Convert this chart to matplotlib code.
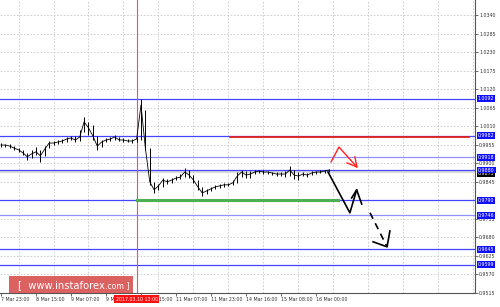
import matplotlib
matplotlib.use("Agg")
import matplotlib.pyplot as plt
import matplotlib.transforms as mtransforms

# hours since 7 Mar 23:00, one bar every 2 hours
bar_hours = list(range(0, 152, 2))
closes = [0.9954, 0.9954, 0.9951, 0.9945, 0.9940, 0.9931, 0.9919, 0.9928, 0.9934, 0.9922,
          0.9942, 0.9960, 0.9960, 0.9963, 0.9966, 0.9972, 0.9975, 0.9969, 0.9978, 1.0023,
          1.0005, 0.9981, 0.9951, 0.9963, 0.9969, 0.9972, 0.9978, 0.9969, 0.9969, 0.9966,
          0.9966, 0.9972, 1.0073, 0.9945, 0.9845, 0.9821, 0.9833, 0.9850, 0.9845, 0.9850,
          0.9856, 0.9859, 0.9874, 0.9865, 0.9850, 0.9830, 0.9812, 0.9818, 0.9824, 0.9830,
          0.9833, 0.9836, 0.9836, 0.9842, 0.9862, 0.9874, 0.9865, 0.9868, 0.9874, 0.9877,
          0.9874, 0.9874, 0.9871, 0.9868, 0.9868, 0.9868, 0.9880, 0.9865, 0.9862, 0.9868,
          0.9865, 0.9871, 0.9874, 0.9874, 0.9877, 0.9880]
highs = [0.9960, 0.9957, 0.9957, 0.9951, 0.9945, 0.9940, 0.9931, 0.9940, 0.9948, 0.9940,
         0.9951, 0.9966, 0.9966, 0.9969, 0.9972, 0.9978, 0.9981, 0.9981, 0.9999, 1.0037,
         1.0023, 1.0014, 0.9981, 0.9969, 0.9975, 0.9978, 0.9984, 0.9978, 0.9975, 0.9972,
         0.9972, 0.9981, 1.0091, 1.0058, 0.9945, 0.9845, 0.9839, 0.9856, 0.9853, 0.9856,
         0.9862, 0.9868, 0.9886, 0.9880, 0.9865, 0.9850, 0.9830, 0.9824, 0.9830, 0.9836,
         0.9839, 0.9842, 0.9842, 0.9850, 0.9874, 0.9880, 0.9877, 0.9877, 0.9880, 0.9880,
         0.9880, 0.9877, 0.9874, 0.9874, 0.9874, 0.9877, 0.9892, 0.9880, 0.9874, 0.9874,
         0.9871, 0.9877, 0.9877, 0.9880, 0.9880, 0.9883]
lows = [0.9948, 0.9948, 0.9945, 0.9940, 0.9934, 0.9925, 0.9910, 0.9916, 0.9925, 0.9904,
        0.9922, 0.9945, 0.9954, 0.9957, 0.9960, 0.9963, 0.9969, 0.9963, 0.9966, 0.9993,
        0.9984, 0.9969, 0.9940, 0.9948, 0.9963, 0.9966, 0.9969, 0.9966, 0.9963, 0.9963,
        0.9960, 0.9963, 0.9969, 0.9940, 0.9836, 0.9812, 0.9821, 0.9830, 0.9839, 0.9842,
        0.9850, 0.9853, 0.9859, 0.9856, 0.9842, 0.9821, 0.9803, 0.9809, 0.9818, 0.9824,
        0.9827, 0.9830, 0.9833, 0.9836, 0.9842, 0.9859, 0.9856, 0.9856, 0.9868, 0.9871,
        0.9868, 0.9868, 0.9865, 0.9862, 0.9862, 0.9859, 0.9862, 0.9853, 0.9850, 0.9862,
        0.9859, 0.9865, 0.9868, 0.9871, 0.9871, 0.9874]

levels = [1.0092, 0.9982, 0.9918, 0.9880, 0.9790, 0.9746, 0.9645, 0.9599]
price_ticks = [1.0340, 1.0285, 1.0230, 1.0175, 1.0120, 1.0065, 1.0010, 0.9955,
               0.9900, 0.9845, 0.9735, 0.9680, 0.9625, 0.9570, 0.9515]
time_ticks = [0, 16, 32, 48, 64, 80, 96, 112, 128, 144]
time_labels = ["7 Mar 23:00", "8 Mar 15:00", "9 Mar 07:00", "9 Mar 23:00", "10 Mar 15:00",
               "11 Mar 07:00", "11 Mar 23:00", "14 Mar 16:00", "15 Mar 08:00", "16 Mar 00:00"]
event_hour = 62
event_label = "2017.03.10 13:00"
bid_price = 0.9873

# drawn objects: (hours, prices)
red_line = ([104.7, 214.0], [0.9977, 0.9977])
green_line = ([62.2, 154.0], [0.9790, 0.9790])
solid_path = ([149.5, 159.5, 162.6], [0.9874, 0.9753, 0.9821])
solid_head = ([160.3, 162.6, 164.9], [0.9797, 0.9821, 0.9779])
dashed_path = ([168.7, 176.5], [0.9753, 0.9652])
dashed_head = ([170.1, 176.5, 177.8], [0.9667, 0.9652, 0.9699])
red_path = ([150.9, 154.5, 162.7], [0.9904, 0.9948, 0.9889])
red_head = ([158.2, 162.7, 161.8], [0.9901, 0.9889, 0.9919])

FS = 3.4
fig = plt.figure(figsize=(5, 3.07), dpi=100)
ax = fig.add_axes([0, 14 / 307, 475 / 500, 293 / 307])
ax.set_xlim(-0.46, 216.7)
ax.set_ylim(0.95152, 1.03845)

# grid
for h in range(8, 217, 16):
    ax.axvline(h, color="#c8c8c8", lw=0.6, ls=(0, (2, 2)), zorder=0)
for p in price_ticks:
    ax.axhline(p, color="#c8c8c8", lw=0.6, ls=(0, (2, 2)), zorder=0)

# levels
for lv in levels:
    c = "#9090ff" if lv in (0.9918, 0.9746) else "#4545ff"
    ax.axhline(lv, color=c, lw=0.9, zorder=2)
ax.axhline(bid_price, color="#dcdcdc", lw=1.6, zorder=1)

ax.axvline(event_hour, color="#e05a5a", lw=0.8, zorder=2)

# price bars
ax.vlines(bar_hours, lows, highs, color="black", lw=0.7, zorder=3)
ax.plot(bar_hours, closes, color="black", lw=0.6, zorder=3)

ax.plot(*red_line, color="#e02020", lw=1.3, zorder=4)
ax.plot(*green_line, color="#4caf50", lw=2.2, zorder=4)
ax.plot(*solid_path, color="black", lw=1.2, zorder=5)
ax.plot(*solid_head, color="black", lw=1.2, zorder=5)
ax.plot(*dashed_path, color="black", lw=1.2, ls=(0, (4, 3)), zorder=5)
ax.plot(*dashed_head, color="black", lw=1.2, zorder=5)
ax.plot(*red_path, color="#ff2020", lw=1.0, zorder=5)
ax.plot(*red_head, color="#ff2020", lw=1.0, zorder=5)

# axes
for s in ["top", "left"]:
    ax.spines[s].set_visible(False)
for s in ["right", "bottom"]:
    ax.spines[s].set_color("#555555")
    ax.spines[s].set_linewidth(0.8)
ax.yaxis.tick_right()
ax.set_yticks(price_ticks)
ax.set_yticklabels([f"{p:.4f}" for p in price_ticks])
ax.set_xticks(time_ticks)
ax.set_xticklabels(time_labels, ha="left")
ax.tick_params(axis="both", labelsize=FS, length=2, width=0.5, pad=1, colors="#333333")

trans_y = mtransforms.blended_transform_factory(ax.transAxes, ax.transData)
ax.text(1.006, bid_price - 0.0003, "0.9873", transform=trans_y, fontsize=FS, color="white",
        va="center", ha="left", bbox=dict(boxstyle="square,pad=0.2", fc="black", ec="none"),
        clip_on=False, zorder=6)
for lv in levels:
    ax.text(1.006, lv, f"{lv:.4f}", transform=trans_y, fontsize=FS, color="white",
            va="center", ha="left",
            bbox=dict(boxstyle="square,pad=0.2", fc="#1010ff", ec="none"),
            clip_on=False, zorder=7)

trans_x = mtransforms.blended_transform_factory(ax.transData, ax.transAxes)
ax.text(event_hour, -0.012, event_label, transform=trans_x, fontsize=FS, color="white",
        va="top", ha="center", bbox=dict(boxstyle="square,pad=0.25", fc="#ff1010", ec="none"),
        clip_on=False, zorder=7)

# watermark
fig.patches.append(plt.Rectangle((9 / 500, 14 / 307), 124 / 500, 17 / 307,
                                 transform=fig.transFigure, fc="#d64545", ec="none",
                                 alpha=0.85, zorder=8))
fig.text(105 / 500, 22 / 307, "[  www.instaforex", color="white", fontsize=7.2,
         ha="right", va="center", zorder=9)
fig.text(105 / 500, 21.5 / 307, ".com ]", color="white", fontsize=5.6,
         ha="left", va="center", zorder=9)

fig.savefig("out.png", dpi=100)
